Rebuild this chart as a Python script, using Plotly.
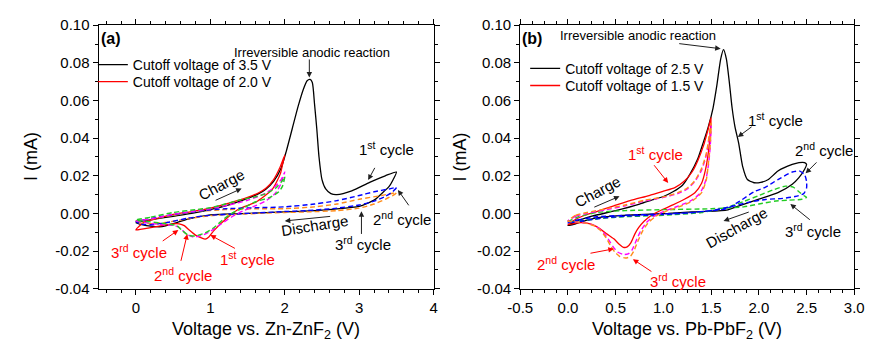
import plotly.graph_objects as go

# ---------------- DATA: panel (a) Zn-ZnF2 ----------------
a_black_v = [0.00, 0.10, 0.25, 0.50, 0.75, 1.00, 1.25, 1.50, 1.65, 1.75, 1.85, 1.95, 2.02, 2.10, 2.18, 2.25, 2.30, 2.34, 2.37, 2.40, 2.43, 2.46, 2.50, 2.55, 2.62, 2.70, 2.90, 3.14, 3.35, 3.50,
             3.45, 3.40, 3.30, 3.22, 3.10, 3.00, 2.70, 2.40, 2.00, 1.50, 1.00, 0.70, 0.50, 0.35, 0.20, 0.08, 0.00]
a_black_i = [-0.005, -0.004, -0.003, -0.0015, 0.000, 0.002, 0.0045, 0.008, 0.0105, 0.013, 0.017, 0.024, 0.033, 0.045, 0.057, 0.066, 0.0705, 0.0712, 0.0695, 0.058, 0.045, 0.030, 0.018, 0.013, 0.0105, 0.010, 0.012, 0.0165, 0.020, 0.022,
             0.0175, 0.0142, 0.0105, 0.0076, 0.0052, 0.0038, 0.0024, 0.0015, 0.0008, 0.000, -0.0008, -0.003, -0.0055, -0.007, -0.0068, -0.006, -0.005]

a_red_v = [0.00, 0.05, 0.12, 0.25, 0.50, 0.75, 1.00, 1.25, 1.50, 1.65, 1.75, 1.85, 1.93, 2.00,
           1.97, 1.94, 1.83, 1.61, 1.39, 1.22, 1.05, 0.98, 0.93, 0.88, 0.80, 0.72, 0.65, 0.58, 0.50, 0.35, 0.20, 0.08, 0.00]
a_red_i = [-0.0088, -0.0065, -0.0045, -0.003, -0.0005, 0.001, 0.0028, 0.0055, 0.0085, 0.011, 0.0135, 0.018, 0.024, 0.031,
           0.026, 0.021, 0.0127, 0.006, 0.0025, -0.0025, -0.009, -0.0125, -0.0137, -0.013, -0.0115, -0.009, -0.0065, -0.0055, -0.0055, -0.0065, -0.0075, -0.0083, -0.0088]

a_mag_v = [0.00, 0.10, 0.25, 0.50, 0.75, 1.00, 1.25, 1.50, 1.70, 1.85, 1.95, 2.00,
           1.95, 1.88, 1.75, 1.60, 1.45, 1.30, 1.15, 1.00, 0.88, 0.77, 0.68, 0.60, 0.52, 0.35, 0.15, 0.00]
a_mag_i = [-0.004, -0.0035, -0.0025, -0.0005, 0.001, 0.0025, 0.0045, 0.007, 0.010, 0.0135, 0.018, 0.022,
           0.016, 0.011, 0.0068, 0.004, 0.0015, -0.0015, -0.0055, -0.0095, -0.0118, -0.0125, -0.011, -0.008, -0.0065, -0.006, -0.005, -0.004]

a_grn_v = [0.00, 0.20, 0.50, 0.80, 1.00, 1.20, 1.40, 1.60, 1.75, 1.88, 1.96, 2.00,
           1.97, 1.92, 1.80, 1.61, 1.45, 1.31, 1.18, 1.05, 0.92, 0.79, 0.70, 0.62, 0.55, 0.40, 0.20, 0.00]
a_grn_i = [-0.0035, -0.002, 0.0005, 0.002, 0.003, 0.005, 0.0072, 0.0088, 0.0105, 0.0135, 0.017, 0.0195,
           0.0145, 0.0115, 0.0085, 0.0062, 0.003, 0.0005, -0.003, -0.0075, -0.0105, -0.012, -0.0115, -0.009, -0.0065, -0.0055, -0.0045, -0.0035]

a_blu_v = [0.00, 0.10, 0.30, 0.60, 0.90, 1.20, 1.60, 2.00, 2.40, 2.70, 3.00, 3.20, 3.40, 3.50,
           3.45, 3.35, 3.20, 3.00, 2.70, 2.30, 2.00, 1.50, 1.00, 0.70, 0.40, 0.20, 0.05, 0.00]
a_blu_i = [-0.0042, -0.0035, -0.002, 0.000, 0.0015, 0.0025, 0.003, 0.0035, 0.005, 0.0068, 0.0095, 0.0115, 0.013, 0.0138,
           0.0115, 0.009, 0.0065, 0.0045, 0.0028, 0.0015, 0.001, 0.000, -0.001, -0.0025, -0.005, -0.006, -0.0055, -0.0042]

a_org_v = [0.00, 0.20, 0.50, 0.80, 1.20, 1.60, 2.00, 2.40, 2.70, 3.00, 3.30, 3.50,
           3.45, 3.35, 3.20, 3.00, 2.70, 2.30, 2.00, 1.50, 1.00, 0.70, 0.40, 0.20, 0.05, 0.00]
a_org_i = [-0.004, -0.003, -0.001, 0.001, 0.002, 0.0025, 0.0025, 0.0035, 0.005, 0.0075, 0.0095, 0.011,
           0.0095, 0.0075, 0.005, 0.0028, 0.0015, 0.0008, 0.0005, -0.0002, -0.0012, -0.0028, -0.0048, -0.0055, -0.005, -0.004]

# ---------------- DATA: panel (b) Pb-PbF2 ----------------
b_black_v = [0.00, 0.10, 0.25, 0.50, 0.75, 0.90, 1.00, 1.10, 1.20, 1.28, 1.36, 1.42, 1.47, 1.52, 1.56, 1.60, 1.63, 1.66, 1.69, 1.72, 1.75, 1.79, 1.83, 1.88, 1.95, 2.02, 2.10, 2.20, 2.35, 2.42, 2.48, 2.50,
             2.48, 2.42, 2.35, 2.20, 2.00, 1.80, 1.66, 1.30, 1.05, 0.80, 0.54, 0.35, 0.20, 0.08, 0.00]
b_black_i = [-0.0065, -0.004, -0.0015, 0.0015, 0.005, 0.0075, 0.009, 0.0115, 0.015, 0.021, 0.029, 0.038, 0.046, 0.056, 0.068, 0.082, 0.087, 0.082, 0.070, 0.056, 0.046, 0.037, 0.025, 0.018, 0.0163, 0.0165, 0.018, 0.0225, 0.026, 0.027, 0.027, 0.026,
             0.0235, 0.019, 0.0155, 0.011, 0.0076, 0.0042, 0.0017, 0.0008, 0.000, -0.0005, -0.0012, -0.002, -0.0035, -0.0055, -0.0065]

b_red_v = [0.00, 0.05, 0.15, 0.30, 0.48, 0.65, 0.85, 1.00, 1.12, 1.22, 1.30, 1.36, 1.42, 1.47, 1.50,
           1.49, 1.47, 1.44, 1.40, 1.33, 1.22, 1.10, 0.98, 0.88, 0.80, 0.74, 0.70, 0.66, 0.62, 0.58, 0.54, 0.48, 0.41, 0.30, 0.20, 0.10, 0.00]
b_red_i = [-0.006, -0.004, -0.0015, 0.001, 0.004, 0.0068, 0.0095, 0.0118, 0.0137, 0.0172, 0.022, 0.028, 0.036, 0.045, 0.051,
           0.042, 0.032, 0.023, 0.016, 0.011, 0.0075, 0.0045, 0.0018, -0.0008, -0.004, -0.0076, -0.011, -0.0155, -0.0178, -0.018, -0.0165, -0.0135, -0.011, -0.007, -0.0052, -0.005, -0.006]

b_mag_v = [0.00, 0.08, 0.20, 0.40, 0.60, 0.80, 1.00, 1.15, 1.25, 1.33, 1.40, 1.45, 1.50,
           1.49, 1.47, 1.44, 1.38, 1.28, 1.15, 1.00, 0.90, 0.82, 0.76, 0.71, 0.67, 0.63, 0.58, 0.52, 0.47, 0.42, 0.36, 0.28, 0.18, 0.07, 0.00]
b_mag_i = [-0.004, -0.0015, 0.000, 0.002, 0.004, 0.0065, 0.0085, 0.0105, 0.013, 0.017, 0.023, 0.031, 0.047,
           0.035, 0.025, 0.017, 0.0105, 0.0065, 0.0038, 0.001, -0.0015, -0.005, -0.0095, -0.015, -0.0195, -0.0215, -0.0218, -0.0205, -0.0175, -0.0135, -0.0095, -0.0065, -0.005, -0.0045, -0.004]

b_org_v = [0.00, 0.08, 0.20, 0.40, 0.60, 0.80, 1.00, 1.15, 1.25, 1.33, 1.40, 1.45, 1.50,
           1.49, 1.47, 1.45, 1.40, 1.30, 1.18, 1.02, 0.92, 0.84, 0.78, 0.73, 0.69, 0.65, 0.60, 0.54, 0.49, 0.45, 0.40, 0.34, 0.27, 0.17, 0.07, 0.00]
b_org_i = [-0.004, -0.001, 0.0005, 0.0025, 0.0045, 0.007, 0.0088, 0.011, 0.0135, 0.0175, 0.024, 0.032, 0.048,
           0.036, 0.026, 0.018, 0.011, 0.0065, 0.0038, 0.001, -0.0015, -0.005, -0.0095, -0.015, -0.020, -0.023, -0.0237, -0.0228, -0.0205, -0.0175, -0.013, -0.009, -0.0065, -0.005, -0.0045, -0.004]

b_blu_v = [0.00, 0.10, 0.30, 0.60, 1.00, 1.30, 1.50, 1.66, 1.80, 1.95, 2.07, 2.20, 2.35, 2.43, 2.48, 2.50,
           2.50, 2.47, 2.38, 2.25, 2.07, 1.90, 1.70, 1.50, 1.20, 0.90, 0.60, 0.35, 0.15, 0.00]
b_blu_i = [-0.005, -0.0035, -0.0018, -0.001, -0.0003, 0.0005, 0.0015, 0.0025, 0.0065, 0.0115, 0.014, 0.018, 0.022, 0.0225, 0.0205, 0.017,
           0.0135, 0.0105, 0.009, 0.008, 0.0074, 0.006, 0.0035, 0.0015, 0.000, -0.0008, -0.0015, -0.0025, -0.004, -0.005]

b_grn_v = [0.00, 0.20, 0.50, 1.00, 1.40, 1.65, 1.85, 2.00, 2.15, 2.28, 2.36, 2.42, 2.47, 2.50,
           2.45, 2.30, 2.18, 2.00, 1.84, 1.50, 1.00, 0.60, 0.30, 0.10, 0.00]
b_grn_i = [-0.0045, -0.0035, -0.002, -0.001, 0.0005, 0.003, 0.0065, 0.0095, 0.0125, 0.0145, 0.014, 0.0115, 0.0095, 0.0085,
           0.0075, 0.007, 0.0066, 0.005, 0.0035, 0.0025, 0.002, 0.0015, 0.0005, -0.002, -0.0045]

# tick labels
y_tickvals = [-0.04, -0.02, 0.00, 0.02, 0.04, 0.06, 0.08, 0.10]
y_ticktext = ["-0.04", "-0.02", "0.00", "0.02", "0.04", "0.06", "0.08", "0.10"]
xa_tickvals = [0, 1, 2, 3, 4]
xa_ticktext = ["0", "1", "2", "3", "4"]
xb_tickvals = [-0.5, 0.0, 0.5, 1.0, 1.5, 2.0, 2.5, 3.0]
xb_ticktext = ["-0.5", "0.0", "0.5", "1.0", "1.5", "2.0", "2.5", "3.0"]

FONT = "Liberation Sans, Arial, Helvetica, sans-serif"
BLACK = "#000000"
RED = "#FF0000"
BLUE = "#0000FF"
ORANGE = "#FF8C1A"
GREEN = "#22CC22"
MAGENTA = "#FF00FF"

fig = go.Figure()


def add_curve(v, i, color, panel, dashed=False, name=None, legend=None):
    xa, ya = ("x", "y") if panel == "a" else ("x2", "y2")
    fig.add_trace(go.Scatter(
        x=v, y=i, mode="lines", name=name, showlegend=legend is not None,
        xaxis=xa, yaxis=ya, legend=legend if legend else "legend",
        line=dict(color=color, width=1.4 if dashed else 1.3,
                  dash="5px,3px" if dashed else "solid",
                  shape="spline", smoothing=0.6),
        hoverinfo="skip"))


add_curve(a_black_v, a_black_i, BLACK, "a", name="Cutoff voltage of 3.5 V", legend="legend")
add_curve(a_red_v, a_red_i, RED, "a", name="Cutoff voltage of 2.0 V", legend="legend2")
add_curve(a_org_v, a_org_i, ORANGE, "a", dashed=True)
add_curve(a_blu_v, a_blu_i, BLUE, "a", dashed=True)
add_curve(a_mag_v, a_mag_i, MAGENTA, "a", dashed=True)
add_curve(a_grn_v, a_grn_i, GREEN, "a", dashed=True)

add_curve(b_black_v, b_black_i, BLACK, "b", name="Cutoff voltage of 2.5 V", legend="legend3")
add_curve(b_red_v, b_red_i, RED, "b", name="Cutoff voltage of 1.5 V", legend="legend4")
add_curve(b_grn_v, b_grn_i, GREEN, "b", dashed=True)
add_curve(b_blu_v, b_blu_i, BLUE, "b", dashed=True)
add_curve(b_mag_v, b_mag_i, MAGENTA, "b", dashed=True)
add_curve(b_org_v, b_org_i, ORANGE, "b", dashed=True)

axis_common = dict(showline=True, linecolor="black", linewidth=1.3, mirror="allticks",
                   ticks="outside", ticklen=5, tickwidth=1.1, tickcolor="black",
                   showgrid=False, zeroline=False, fixedrange=True,
                   tickfont=dict(family=FONT, size=15, color="black"))


def leg(px_left, px_top):
    return dict(x=px_left / 875, y=1 - px_top / 350, xanchor="left", yanchor="top",
                bgcolor="rgba(0,0,0,0)", font=dict(family=FONT, size=14, color="black"),
                tracegroupgap=0, itemwidth=30)


fig.update_layout(
    width=875, height=350, margin=dict(l=0, r=0, t=0, b=0),
    paper_bgcolor="white", plot_bgcolor="white",
    font=dict(family=FONT, color="black"),
    xaxis=dict(domain=[0.1006, 0.4937], range=[-0.5, 4], anchor="y",
               tickvals=xa_tickvals, ticktext=xa_ticktext,
               minor=dict(dtick=0.2, tick0=0, ticks="outside", ticklen=3, tickcolor="black"),
               **axis_common),
    yaxis=dict(domain=[0.16, 0.9514], range=[-0.04, 0.10], anchor="x",
               tickvals=y_tickvals, ticktext=y_ticktext,
               minor=dict(dtick=0.01, tick0=0, ticks="outside", ticklen=3, tickcolor="black"),
               **axis_common),
    xaxis2=dict(domain=[0.5954, 0.9874], range=[-0.5, 3.0], anchor="y2",
                tickvals=xb_tickvals, ticktext=xb_ticktext,
                minor=dict(dtick=0.125, tick0=0, ticks="outside", ticklen=3, tickcolor="black"),
                **axis_common),
    yaxis2=dict(domain=[0.16, 0.9514], range=[-0.04, 0.10], anchor="x2",
                tickvals=y_tickvals, ticktext=y_ticktext,
                minor=dict(dtick=0.01, tick0=0, ticks="outside", ticklen=3, tickcolor="black"),
                **axis_common),
    legend=leg(82, 42),
    legend2=leg(82, 60),
    legend3=leg(526, 46),
    legend4=leg(526, 64),
)

ann = []


def txt(x, y, text, panel, color="black", size=15, angle=0, bold=False):
    xr, yr = ("x", "y") if panel == "a" else ("x2", "y2")
    ann.append(dict(x=x, y=y, xref=xr, yref=yr, text=f"<b>{text}</b>" if bold else text,
                    showarrow=False, textangle=angle,
                    font=dict(family=FONT, size=size, color=color),
                    xanchor="center", yanchor="middle"))


def arrow(x0, y0, x1, y1, panel, color="#202020"):
    xr, yr = ("x", "y") if panel == "a" else ("x2", "y2")
    ann.append(dict(x=x1, y=y1, ax=x0, ay=y0, xref=xr, yref=yr, axref=xr, ayref=yr,
                    text="", showarrow=True, arrowhead=2, arrowsize=1.1, arrowwidth=1,
                    arrowcolor=color, standoff=0, startstandoff=0))


# panel (a)
txt(-0.34, 0.0928, "(a)", "a", size=16, bold=True)
txt(2.36, 0.0857, "Irreversible anodic reaction", "a", size=13)
arrow(2.33, 0.0826, 2.33, 0.0722, "a")
txt(1.15, 0.0152, "Charge", "a", angle=-28)
arrow(1.05, 0.0066, 1.42, 0.0132, "a")
txt(2.40, -0.0066, "Discharge", "a", angle=-9)
arrow(2.63, -0.0015, 2.00, -0.0040, "a")
txt(3.36, 0.0345, "1<sup>st</sup> cycle", "a")
arrow(3.22, 0.0250, 3.12, 0.0177, "a")
txt(3.58, -0.0025, "2<sup>nd</sup> cycle", "a")
arrow(3.68, 0.0035, 3.52, 0.0125, "a")
txt(3.05, -0.0160, "3<sup>rd</sup> cycle", "a")
arrow(3.03, -0.0117, 3.03, 0.0012, "a")
txt(0.04, -0.0200, "3<sup>rd</sup> cycle", "a", color=RED)
arrow(0.34, -0.0152, 0.57, -0.0088, "a", color=RED)
txt(0.63, -0.0325, "2<sup>nd</sup> cycle", "a", color=RED)
arrow(0.60, -0.0260, 0.69, -0.0110, "a", color=RED)
txt(1.50, -0.0240, "1<sup>st</sup> cycle", "a", color=RED)
arrow(1.35, -0.0190, 1.00, -0.0115, "a", color=RED)

# panel (b)
txt(-0.38, 0.0928, "(b)", "b", size=16, bold=True)
txt(0.73, 0.0943, "Irreversible anodic reaction", "b", size=13)
arrow(1.15, 0.0903, 1.60, 0.0875, "b")
txt(2.17, 0.0497, "1<sup>st</sup> cycle", "b")
arrow(1.94, 0.0466, 1.78, 0.0406, "b")
txt(2.68, 0.0340, "2<sup>nd</sup> cycle", "b")
arrow(2.62, 0.0279, 2.49, 0.0213, "b")
txt(2.57, -0.0091, "3<sup>rd</sup> cycle", "b")
arrow(2.55, -0.0040, 2.33, 0.0050, "b")
txt(1.77, -0.0076, "Discharge", "b", angle=-29)
arrow(1.91, 0.0010, 1.63, -0.0040, "b")
txt(0.31, 0.0117, "Charge", "b", angle=-28)
arrow(0.26, 0.0030, 0.54, 0.0091, "b")
txt(0.92, 0.0320, "1<sup>st</sup> cycle", "b", color=RED)
arrow(0.89, 0.0264, 1.05, 0.0162, "b", color=RED)
txt(-0.02, -0.0264, "2<sup>nd</sup> cycle", "b", color=RED)
arrow(0.22, -0.0213, 0.48, -0.0188, "b", color=RED)
txt(1.15, -0.0355, "3<sup>rd</sup> cycle", "b", color=RED)
arrow(0.89, -0.0314, 0.68, -0.0243, "b", color=RED)

# axis titles
ann.append(dict(x=260 / 875, y=1 - 338 / 350, xref="paper", yref="paper",
                text="Voltage vs. Zn-ZnF<sub>2</sub> (V)", showarrow=False,
                font=dict(family=FONT, size=18, color="black"), xanchor="center", yanchor="middle"))
ann.append(dict(x=692 / 875, y=1 - 338 / 350, xref="paper", yref="paper",
                text="Voltage vs. Pb-PbF<sub>2</sub> (V)", showarrow=False,
                font=dict(family=FONT, size=18, color="black"), xanchor="center", yanchor="middle"))
ann.append(dict(x=19 / 875, y=1 - 155 / 350, xref="paper", yref="paper", text="I (mA)",
                showarrow=False, textangle=-90,
                font=dict(family=FONT, size=18, color="black"), xanchor="center", yanchor="middle"))
ann.append(dict(x=460 / 875, y=1 - 155 / 350, xref="paper", yref="paper", text="I (mA)",
                showarrow=False, textangle=-90,
                font=dict(family=FONT, size=18, color="black"), xanchor="center", yanchor="middle"))

fig.update_layout(annotations=ann)
fig.write_html("out.html")
